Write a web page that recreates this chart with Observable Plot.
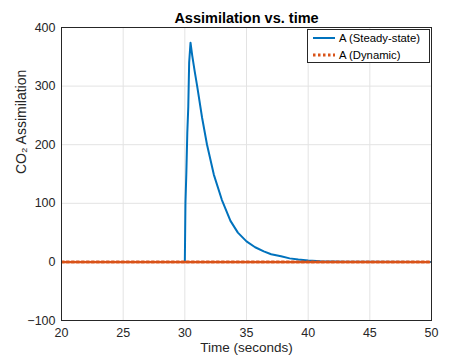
<!DOCTYPE html>
<html>
<head>
<meta charset="utf-8">
<script src="https://cdn.jsdelivr.net/npm/d3@7"></script>
<script src="https://cdn.jsdelivr.net/npm/@observablehq/plot@0.6"></script>
<style>
  body { margin: 0; background: #fff; font-family: "Liberation Sans", Arial, Helvetica, sans-serif; }
  #wrap { position: relative; width: 475px; height: 360px; }
  #legend { position: absolute; left: 307px; top: 29px; width: 121px; height: 32px; background: #fff; border: 1px solid #262626; font-size: 11.3px; color: #000; }
  #legend .row { position: absolute; left: 0; height: 16px; display: flex; align-items: center; }
  #legend svg { margin-left: 5px; margin-right: 4px; }
</style>
</head>
<body>
<div id="wrap"></div>
<script>
// Time (s) and assimilation values
const timeSteady = [20, 30.0, 30.05, 30.12, 30.2, 30.28, 30.35, 30.46, 30.6, 30.8, 31.0, 31.4, 31.8, 32.35, 33.0, 33.7, 34.3, 35.0, 35.7, 36.4, 37.0, 37.8, 38.5, 39.2, 40, 41, 42, 43, 45, 50];
const aSteady    = [0,  0,    100,   150,   220,  265,   340,   374,   352,  325,  300,  246,  200,  149,   106,  70,   50,   35,   25,   18,   13,   9.5,  6,    4,    2.5, 1.2, 0.6, 0.3, 0.1, 0];
const timeDynamic = [20, 25, 30, 35, 40, 45, 50];
const aDynamic    = [0, 0, 0, 0, 0, 0, 0];
const xTicks = [20, 25, 30, 35, 40, 45, 50];
const yTicks = [-100, 0, 100, 200, 300, 400];
const seriesNames = ["A (Steady-state)", "A (Dynamic)"];
const seriesColors = ["#0072BD", "#D95319"];

const steady = timeSteady.map((t, i) => ({t, a: aSteady[i]}));
const dynamic = timeDynamic.map((t, i) => ({t, a: aDynamic[i]}));

const chart = Plot.plot({
  width: 475,
  height: 360,
  marginLeft: 61,
  marginRight: 44,
  marginTop: 27,
  marginBottom: 40,
  style: {fontFamily: '"Liberation Sans", Arial, Helvetica, sans-serif', fontSize: "12px", color: "#262626", background: "#fff"},
  x: {domain: [20, 50], ticks: xTicks, label: null},
  y: {domain: [-100, 400], ticks: yTicks, label: null},
  marks: [
    Plot.gridX(xTicks, {stroke: "#e3e3e3", strokeOpacity: 1}),
    Plot.gridY(yTicks, {stroke: "#e3e3e3", strokeOpacity: 1}),
    Plot.axisX(xTicks, {tickSize: 0, tickPadding: 8, fontSize: 12.5, fill: "#262626"}),
    Plot.axisY(yTicks, {tickSize: 0, tickPadding: 6, fontSize: 12.5, fill: "#262626"}),
    Plot.line(steady, {x: "t", y: "a", stroke: seriesColors[0], strokeWidth: 2, clip: true}),
    Plot.line(dynamic, {x: "t", y: "a", stroke: seriesColors[1], strokeWidth: 3, strokeDasharray: "2.5,2.5", clip: true}),
    Plot.frame({stroke: "#262626", strokeWidth: 1}),
    Plot.text(["Assimilation vs. time"], {frameAnchor: "top", dy: -15, fontWeight: "bold", fontSize: 14.5, fill: "#000"}),
    Plot.text(["Time (seconds)"], {frameAnchor: "bottom", dy: 31, fontSize: 13.5, fill: "#262626"}),
    Plot.text(["CO\u2082 Assimilation"], {frameAnchor: "left", dx: -40, rotate: -90, fontSize: 14, fill: "#262626"})
  ]
});
document.getElementById("wrap").appendChild(chart);

// legend
const legend = document.createElement("div");
legend.id = "legend";
seriesNames.forEach((name, i) => {
  const row = document.createElement("div");
  row.className = "row";
  row.style.top = (i * 16.5) + "px";
  const dash = i === 1 ? ' stroke-dasharray="2.5,2.5"' : '';
  const sw = i === 1 ? 3 : 2;
  row.innerHTML = `<svg width="22" height="4"><line x1="0" y1="2" x2="22" y2="2" stroke="${seriesColors[i]}" stroke-width="${sw}"${dash}/></svg><span>${name}</span>`;
  legend.appendChild(row);
});
document.getElementById("wrap").appendChild(legend);
</script>
</body>
</html>
